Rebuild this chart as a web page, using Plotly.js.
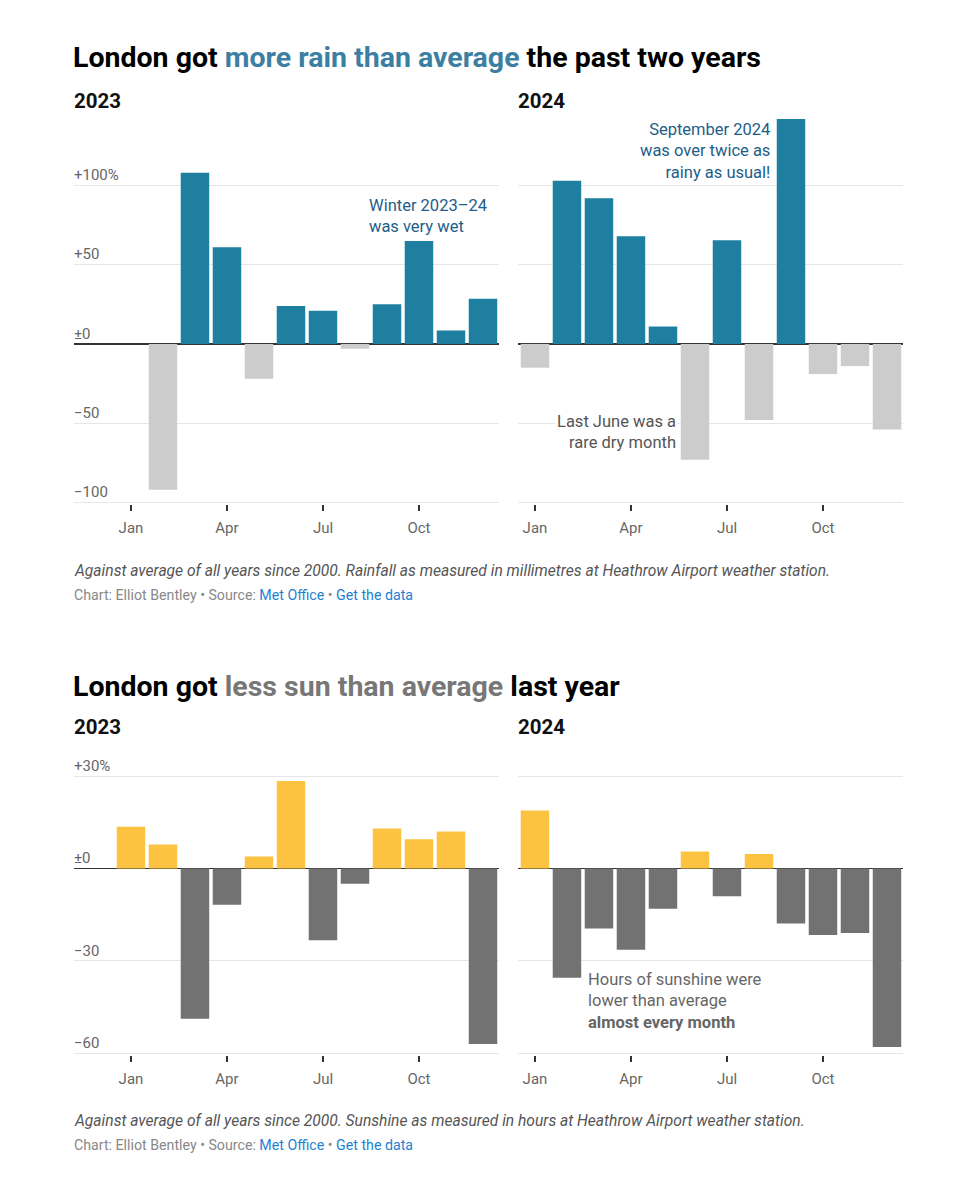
<!DOCTYPE html>
<html>
<head>
<meta charset="utf-8">
<script src="https://cdn.plot.ly/plotly-3.0.1.min.js"></script>
<style>
  html, body { margin: 0; padding: 0; background: #fff; }
  #chart { width: 960px; height: 1183px; }
</style>
</head>
<body>
<div id="chart"></div>
<script>
// ---- Data ----
const months = ['Jan','Feb','Mar','Apr','May','Jun','Jul','Aug','Sep','Oct','Nov','Dec'];
const tickLabelsX = ['Jan','Apr','Jul','Oct'];
const tickMonthIdx = [0, 3, 6, 9];

// Rainfall, % vs average of all years since 2000
const rain2023 = [0, -92, 108, 61, -22, 24, 21, -3, 25, 65, 8.5, 28.5];
const rain2024 = [-15, 103, 92, 68, 11, -73, 65.5, -48, 142, -19, -14, -54];

// Sunshine, % vs average of all years since 2000
const sun2023 = [13.5, 7.8, -48.8, -11.8, 3.9, 28.4, -23.3, -5, 13, 9.5, 12, -57];
const sun2024 = [18.8, -35.5, -19.5, -26.4, -13.1, 5.5, -9, 4.7, -17.9, -21.6, -21, -58];

const rainTickVals = [100, 50, 0, -50, -100];
const rainTickText = ['+100%', '+50', '±0', '\u221250', '\u2212100'];
const sunTickVals = [30, 0, -30, -60];
const sunTickText = ['+30%', '±0', '\u221230', '\u221260'];

// ---- Styles ----
const RAIN_POS = '#1f7fa0', RAIN_NEG = '#cccccc';
const SUN_POS = '#fcc342', SUN_NEG = '#727272';
const FONT = 'Roboto, "Open Sans", sans-serif';
const W = 960, H = 1183;
const px = x => x / W;
const py = y => 1 - y / H;

const xIdx = months.map((_, i) => i);
function colorsFor(vals, pos, neg) { return vals.map(v => v >= 0 ? pos : neg); }
function barTrace(vals, pos, neg, xa, ya) {
  return {
    type: 'bar', x: xIdx, y: vals, xaxis: xa, yaxis: ya,
    marker: { color: colorsFor(vals, pos, neg), line: { width: 0 } },
    hoverinfo: 'skip', showlegend: false
  };
}

const data = [
  barTrace(rain2023, RAIN_POS, RAIN_NEG, 'x', 'y'),
  barTrace(rain2024, RAIN_POS, RAIN_NEG, 'x2', 'y2'),
  barTrace(sun2023, SUN_POS, SUN_NEG, 'x3', 'y3'),
  barTrace(sun2024, SUN_POS, SUN_NEG, 'x4', 'y4')
];

function xAxis(domain, range, anchor) {
  return {
    domain: domain, range: range, anchor: anchor,
    tickmode: 'array', tickvals: tickMonthIdx, ticktext: tickLabelsX,
    ticks: 'outside', ticklen: 6, tickwidth: 1.3, tickcolor: '#333',
    ticklabelstandoff: 4,
    showgrid: false, zeroline: false, showline: false,
    tickfont: { family: FONT, size: 15, color: '#666' },
    fixedrange: true
  };
}
function yAxis(domain, range, anchor, vals, text, showLabels) {
  return {
    domain: domain, range: range, anchor: anchor,
    tickmode: 'array', tickvals: vals, ticktext: text,
    showticklabels: showLabels,
    ticklabelposition: 'inside top', ticklabeloverflow: 'allow',
    ticklabelstandoff: -3,
    ticks: '', showgrid: true, gridcolor: '#e6e6e6', gridwidth: 1,
    zeroline: true, zerolinecolor: '#333', zerolinewidth: 1.3,
    showline: false,
    tickfont: { family: FONT, size: 15, color: '#666' },
    fixedrange: true
  };
}

const leftX = [px(74), px(499)], rightX = [px(518), px(903)];
const leftRange = [-1.78, 11.5], rightRange = [-0.53, 11.5];
const topY = [py(504), py(111)], botY = [py(1054.8), py(772)];
const rainRange = [-101, 147], sunRange = [-60.5, 31.3];

const ann = [];
function addText(text, x, y, opts) {
  ann.push(Object.assign({
    text: text, xref: 'paper', yref: 'paper', x: px(x), y: py(y),
    xanchor: 'left', yanchor: 'middle', showarrow: false, align: 'left',
    font: { family: FONT, size: 14, color: '#222' }
  }, opts || {}));
}

// Titles
addText("<b>London got <span style='color:#3d7fa3'>more rain than average</span> the past two years</b>", 71, 58,
  { font: { family: FONT, size: 28.5, color: '#000' } });
addText('<b>2023</b>', 72, 101, { font: { family: FONT, size: 20.5, color: '#111' } });
addText('<b>2024</b>', 516, 101, { font: { family: FONT, size: 20.5, color: '#111' } });

addText("<b>London got <span style='color:#777'>less sun than average</span> last year</b>", 71, 686,
  { font: { family: FONT, size: 28.5, color: '#000' } });
addText('<b>2023</b>', 72, 727, { font: { family: FONT, size: 20.5, color: '#111' } });
addText('<b>2024</b>', 516, 727, { font: { family: FONT, size: 20.5, color: '#111' } });

// In-chart annotations
addText('Winter 2023\u201324<br>was very wet', 367, 216, { font: { family: FONT, size: 16.5, color: '#1d5e8a' } });
addText('September 2024<br>was over twice as<br>rainy as usual!', 772, 151,
  { xanchor: 'right', align: 'right', font: { family: FONT, size: 16.5, color: '#1d5e8a' } });
addText('Last June was a<br>rare dry month', 678, 432,
  { xanchor: 'right', align: 'right', bgcolor: '#fff', font: { family: FONT, size: 16.5, color: '#555' } });
addText('Hours of sunshine were<br>lower than average<br><b>almost every month</b>', 586, 1001,
  { font: { family: FONT, size: 16.5, color: '#666' } });

// Footers
addText('<i>Against average of all years since 2000. Rainfall as measured in millimetres at Heathrow Airport weather station.</i>', 72, 571,
  { font: { family: FONT, size: 15.6, color: '#555' } });
addText("Chart: Elliot Bentley \u2022 Source: <span style='color:#1d81d2'>Met Office</span> \u2022 <span style='color:#1d81d2'>Get the data</span>", 72, 595,
  { font: { family: FONT, size: 14.2, color: '#888' } });
addText('<i>Against average of all years since 2000. Sunshine as measured in hours at Heathrow Airport weather station.</i>', 72, 1121,
  { font: { family: FONT, size: 15.6, color: '#555' } });
addText("Chart: Elliot Bentley \u2022 Source: <span style='color:#1d81d2'>Met Office</span> \u2022 <span style='color:#1d81d2'>Get the data</span>", 72, 1145,
  { font: { family: FONT, size: 14.2, color: '#888' } });

const layout = {
  width: W, height: H,
  margin: { l: 0, r: 0, t: 0, b: 0 },
  paper_bgcolor: '#fff', plot_bgcolor: 'rgba(0,0,0,0)',
  font: { family: FONT },
  bargap: 0.11,
  showlegend: false,
  xaxis: xAxis(leftX, leftRange, 'y'),
  yaxis: yAxis(topY, rainRange, 'x', rainTickVals, rainTickText, true),
  xaxis2: xAxis(rightX, rightRange, 'y2'),
  yaxis2: yAxis(topY, rainRange, 'x2', rainTickVals, rainTickText, false),
  xaxis3: xAxis(leftX, leftRange, 'y3'),
  yaxis3: yAxis(botY, sunRange, 'x3', sunTickVals, sunTickText, true),
  xaxis4: xAxis(rightX, rightRange, 'y4'),
  yaxis4: yAxis(botY, sunRange, 'x4', sunTickVals, sunTickText, false),
  annotations: ann
};

Plotly.newPlot('chart', data, layout, { displayModeBar: false, staticPlot: true });
</script>
</body>
</html>
